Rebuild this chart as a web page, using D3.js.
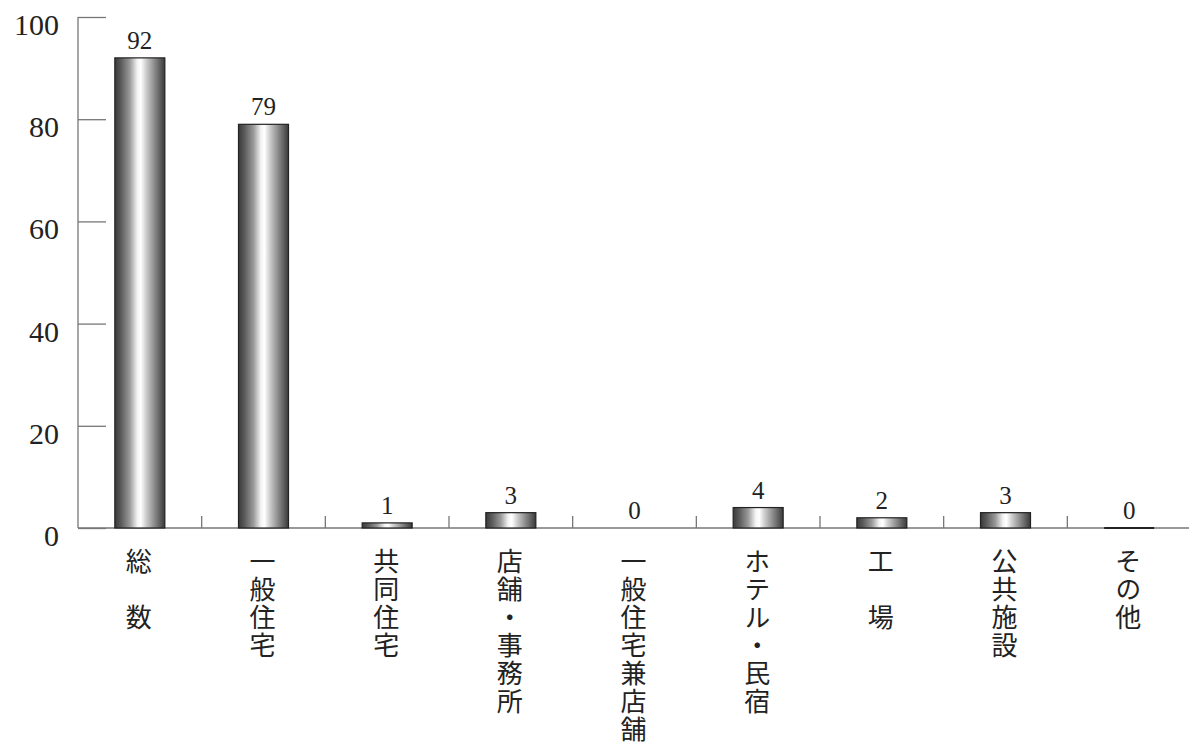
<!DOCTYPE html>
<html><head><meta charset="utf-8">
<script src="https://cdn.jsdelivr.net/npm/d3@7"></script>
<style>body{margin:0;background:#fff}svg{display:block}</style>
</head><body>
<script>
const categories = ["総\u3000数","一般住宅","共同住宅","店舗・事務所","一般住宅兼店舗","ホテル・民宿","工\u3000場","公共施設","その他"];
const values = [92,79,1,3,0,4,2,3,0];
const yTicks = [0,20,40,60,80,100];

const W=1189,H=745;
const svg=d3.select("body").append("svg").attr("width",W).attr("height",H);
const defs=svg.append("defs");
const g=defs.append("linearGradient").attr("id","cyl").attr("x1","0").attr("x2","1").attr("y1","0").attr("y2","0");
[[0,"#3a3a3a"],[0.12,"#5a5a5a"],[0.3,"#9a9a9a"],[0.45,"#f4f4f4"],[0.52,"#ffffff"],[0.62,"#d0d0d0"],[0.8,"#888"],[1,"#3a3a3a"]]
 .forEach(([o,c])=>g.append("stop").attr("offset",o).attr("stop-color",c));

const x=d3.scaleBand().domain(categories).range([78,1191]).padding(0);
const y=d3.scaleLinear().domain([0,100]).range([528,17]);
const bw=50;
const axisColor="#777";

// y axis
const ya=svg.append("g").attr("transform","translate(78,0)")
  .call(d3.axisRight(y).tickValues(yTicks).tickSize(28).tickFormat(""));
ya.select(".domain").attr("stroke",axisColor).attr("d",`M0,${y(100)}V${y(0)}`);
ya.selectAll(".tick line").attr("stroke",axisColor).attr("stroke-width",1.3);
ya.select(".domain").attr("stroke-width",1.3);
svg.append("g").selectAll("text").data(yTicks).join("text")
  .attr("x",59).attr("y",d=>y(d)+18).attr("text-anchor","end")
  .attr("font-family","Liberation Serif, serif").attr("font-size",30).attr("fill","#222")
  .text(d=>d);

// x baseline and ticks
svg.append("line").attr("x1",78).attr("x2",W).attr("y1",y(0)).attr("y2",y(0))
  .attr("stroke",axisColor).attr("stroke-width",1.3);
svg.append("g").selectAll("line").data(categories.slice(1)).join("line")
  .attr("x1",d=>x(d)).attr("x2",d=>x(d)).attr("y1",y(0)).attr("y2",y(0)-12)
  .attr("stroke",axisColor).attr("stroke-width",1.3);

// bars
svg.append("g").selectAll("rect").data(values).join("rect")
  .attr("x",(d,i)=>x(categories[i])+x.bandwidth()/2-bw/2)
  .attr("y",d=>y(d)).attr("width",bw).attr("height",d=>y(0)-y(d))
  .attr("fill","url(#cyl)").attr("stroke",d=>d>0?"#222":"none").attr("stroke-width",1.2);
// zero line for その他 as in reference
svg.append("line").attr("x1",x("その他")+x.bandwidth()/2-bw/2).attr("x2",x("その他")+x.bandwidth()/2+bw/2)
  .attr("y1",y(0)).attr("y2",y(0)).attr("stroke","#222").attr("stroke-width",2);

// value labels
svg.append("g").selectAll("text").data(values).join("text")
  .attr("x",(d,i)=>x(categories[i])+x.bandwidth()/2).attr("y",d=>y(d)-9)
  .attr("text-anchor","middle").attr("font-family","Liberation Serif, serif")
  .attr("font-size",25).attr("fill","#222").text(d=>d);

// category labels (vertical)
svg.append("g").selectAll("text").data(categories).join("text")
  .attr("x",d=>x(d)+x.bandwidth()/2-1).attr("y",548)
  .attr("writing-mode","vertical-rl").style("writing-mode","vertical-rl")
  .attr("font-family","Noto Sans CJK JP").attr("font-size",26).attr("letter-spacing",2)
  .attr("fill","#222").text(d=>d);
</script>
</body></html>
